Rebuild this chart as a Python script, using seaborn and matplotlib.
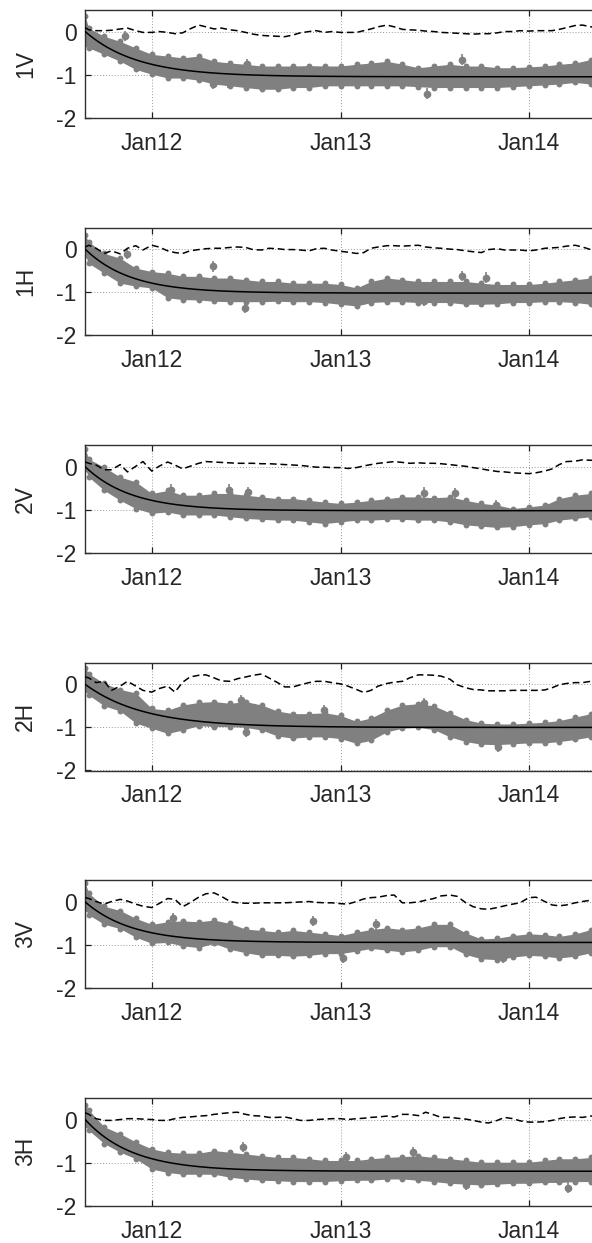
import numpy as np
import pandas as pd
import matplotlib
matplotlib.use("Agg")
import matplotlib.pyplot as plt
import matplotlib.dates as mdates
import seaborn as sns

sns.set_style("ticks")
plt.rcParams["font.family"] = ["Liberation Sans", "DejaVu Sans"]
plt.rcParams["axes.unicode_minus"] = False

# ---------------------------------------------------------------- data
channels = ["1V", "1H", "2V", "2H", "3V", "3H"]

first_day = pd.Timestamp("2011-08-25")
# monthly envelope of the daily measurements (upper / lower edge of the cloud)
band_dates = pd.DatetimeIndex([first_day]).append(
    pd.date_range("2011-09-01", "2014-06-01", freq="MS"))
# semi-monthly deviation series (dashed)
dev_dates = pd.DatetimeIndex([first_day]).append(
    pd.date_range("2011-09-01", "2014-06-01", freq="SMS"))

upper_1V = [0.35, 0.08, -0.11, -0.23, -0.38, -0.53, -0.57, -0.61, -0.57, -0.69, -0.73, -0.76,
            -0.80, -0.80, -0.80, -0.79, -0.80, -0.80, -0.76, -0.73, -0.69, -0.76, -0.84, -0.80,
            -0.76, -0.80, -0.80, -0.84, -0.84, -0.82, -0.80, -0.76, -0.73, -0.65, -0.65]
lower_1V = [-0.30, -0.38, -0.53, -0.69, -0.88, -0.99, -1.08, -1.08, -1.13, -1.22, -1.26, -1.30,
            -1.34, -1.34, -1.30, -1.30, -1.26, -1.26, -1.26, -1.26, -1.26, -1.26, -1.28, -1.30,
            -1.30, -1.30, -1.30, -1.30, -1.28, -1.26, -1.24, -1.22, -1.18, -1.22, -1.22]
upper_1H = [0.32, 0.17, -0.10, -0.21, -0.44, -0.52, -0.56, -0.63, -0.63, -0.67, -0.67, -0.71,
            -0.75, -0.75, -0.79, -0.79, -0.79, -0.82, -0.90, -0.75, -0.67, -0.71, -0.75, -0.75,
            -0.75, -0.75, -0.79, -0.82, -0.82, -0.82, -0.79, -0.75, -0.71, -0.67, -0.71]
lower_1H = [-0.14, -0.33, -0.56, -0.79, -0.86, -0.90, -1.13, -1.17, -1.18, -1.21, -1.22, -1.22,
            -1.22, -1.21, -1.22, -1.22, -1.24, -1.28, -1.32, -1.24, -1.22, -1.22, -1.24, -1.24,
            -1.24, -1.28, -1.28, -1.27, -1.24, -1.24, -1.22, -1.22, -1.24, -1.28, -1.24]
upper_2V = [0.42, 0.18, -0.01, -0.24, -0.35, -0.62, -0.55, -0.66, -0.66, -0.62, -0.62, -0.66,
            -0.70, -0.74, -0.74, -0.78, -0.82, -0.85, -0.82, -0.78, -0.74, -0.70, -0.70, -0.72,
            -0.70, -0.78, -0.85, -0.89, -0.97, -0.93, -0.89, -0.74, -0.66, -0.62, -0.58]
lower_2V = [-0.05, -0.24, -0.55, -0.78, -0.97, -1.08, -1.05, -1.12, -1.12, -1.12, -1.16, -1.20,
            -1.22, -1.24, -1.24, -1.28, -1.32, -1.28, -1.24, -1.24, -1.22, -1.22, -1.24, -1.24,
            -1.28, -1.35, -1.38, -1.41, -1.39, -1.35, -1.32, -1.24, -1.20, -1.16, -1.15]
upper_2H = [0.38, 0.25, 0.02, -0.12, -0.20, -0.56, -0.60, -0.48, -0.42, -0.40, -0.44, -0.40,
            -0.48, -0.62, -0.68, -0.68, -0.66, -0.72, -0.86, -0.78, -0.60, -0.48, -0.45, -0.50,
            -0.66, -0.82, -0.90, -0.92, -0.92, -0.90, -0.88, -0.84, -0.76, -0.68, -0.64]
lower_2H = [-0.14, -0.25, -0.50, -0.62, -0.90, -1.02, -1.14, -1.06, -0.96, -0.98, -0.98, -1.00,
            -1.06, -1.20, -1.25, -1.22, -1.22, -1.26, -1.37, -1.30, -1.10, -1.02, -1.00, -1.05,
            -1.22, -1.33, -1.39, -1.40, -1.38, -1.36, -1.36, -1.33, -1.28, -1.22, -1.18]
upper_3V = [0.44, 0.20, -0.10, -0.20, -0.38, -0.52, -0.46, -0.44, -0.46, -0.42, -0.50, -0.63,
            -0.66, -0.70, -0.66, -0.70, -0.74, -0.78, -0.70, -0.64, -0.60, -0.64, -0.60, -0.52,
            -0.52, -0.72, -0.86, -0.84, -0.78, -0.74, -0.76, -0.80, -0.74, -0.64, -0.60]
lower_3V = [-0.17, -0.30, -0.52, -0.62, -0.82, -0.96, -0.94, -1.02, -1.06, -0.96, -1.10, -1.18,
            -1.24, -1.24, -1.26, -1.24, -1.20, -1.20, -1.14, -1.08, -1.12, -1.16, -1.12, -1.04,
            -1.04, -1.22, -1.32, -1.34, -1.28, -1.24, -1.26, -1.30, -1.26, -1.18, -1.14]
upper_3H = [0.34, 0.22, -0.17, -0.33, -0.52, -0.68, -0.76, -0.78, -0.78, -0.72, -0.76, -0.80,
            -0.84, -0.88, -0.88, -0.91, -0.95, -0.95, -0.95, -0.91, -0.88, -0.86, -0.84, -0.88,
            -0.91, -0.95, -0.99, -0.99, -0.99, -0.99, -0.95, -0.91, -0.91, -0.88, -0.86]
lower_3H = [-0.13, -0.25, -0.56, -0.76, -0.91, -1.15, -1.23, -1.27, -1.27, -1.27, -1.34, -1.38,
            -1.41, -1.42, -1.44, -1.44, -1.44, -1.42, -1.41, -1.41, -1.38, -1.38, -1.41, -1.44,
            -1.48, -1.50, -1.52, -1.50, -1.48, -1.48, -1.46, -1.46, -1.44, -1.44, -1.42]

dev_1V = [0.09, 0.04, 0.02, 0.02, 0.03, 0.06, 0.08, 0.02, -0.02, -0.02, 0.00, -0.02, -0.05, -0.03,
          0.06, 0.15, 0.11, 0.06, 0.08, 0.04, 0.02, -0.02, -0.06, -0.09, -0.10, -0.11, -0.12, -0.08,
          -0.03, 0.00, 0.02, -0.02, 0.00, -0.02, -0.02, -0.02, 0.02, 0.06, 0.11, 0.15, 0.11, 0.05,
          0.04, 0.03, 0.01, 0.00, -0.02, -0.03, -0.04, -0.05, -0.06, -0.05, -0.05, -0.03, 0.00,
          0.00, 0.02, 0.01, 0.02, 0.02, 0.02, 0.05, 0.09, 0.14, 0.15, 0.11, 0.08, 0.06]
dev_1H = [0.05, 0.09, 0.02, -0.10, -0.04, -0.11, 0.02, 0.08, -0.02, 0.09, 0.05, -0.04, -0.08, -0.10,
          -0.04, -0.01, 0.01, 0.02, 0.02, 0.04, 0.05, 0.04, -0.01, -0.02, 0.02, 0.01, -0.01, -0.01,
          -0.02, -0.04, 0.01, 0.02, -0.02, -0.05, -0.07, -0.10, -0.08, 0.02, 0.05, 0.08, 0.08, 0.07,
          0.08, 0.09, 0.05, 0.03, 0.02, 0.00, -0.01, -0.04, -0.06, -0.08, -0.01, 0.01, -0.02,
          -0.02, -0.02, -0.04, -0.02, 0.02, 0.03, 0.04, 0.07, 0.09, 0.05, -0.01, -0.02, -0.02]
dev_2V = [0.11, 0.08, 0.04, -0.07, -0.07, 0.05, -0.12, 0.01, 0.12, -0.10, 0.01, 0.11, 0.04, -0.05,
          0.01, 0.08, 0.12, 0.11, 0.10, 0.09, 0.08, 0.08, 0.08, 0.07, 0.07, 0.06, 0.05, 0.04,
          0.03, 0.01, -0.01, -0.01, -0.02, -0.02, -0.04, -0.02, 0.02, 0.05, 0.08, 0.10, 0.12, 0.10,
          0.08, 0.09, 0.08, 0.08, 0.07, 0.05, 0.03, 0.01, -0.02, -0.05, -0.08, -0.11, -0.12,
          -0.14, -0.15, -0.16, -0.14, -0.10, -0.05, 0.05, 0.12, 0.13, 0.16, 0.15, 0.15, 0.15]
dev_2H = [0.17, 0.15, 0.04, 0.07, -0.14, -0.04, 0.07, -0.04, -0.14, -0.18, -0.10, -0.04, -0.18, 0.05,
          0.17, 0.21, 0.22, 0.15, 0.08, 0.07, 0.13, 0.17, 0.21, 0.24, 0.15, 0.04, -0.06, -0.06,
          -0.01, 0.04, 0.07, 0.07, 0.04, 0.01, -0.04, -0.12, -0.19, -0.14, -0.04, 0.02, 0.05, 0.07,
          0.15, 0.22, 0.22, 0.21, 0.19, 0.12, -0.01, -0.08, -0.12, -0.13, -0.15, -0.15, -0.15,
          -0.14, -0.14, -0.14, -0.14, -0.13, -0.08, -0.01, 0.02, 0.04, 0.04, 0.07, 0.07, 0.05]
dev_3V = [0.10, 0.08, 0.01, -0.05, 0.01, 0.06, 0.02, -0.05, -0.10, -0.13, -0.04, 0.08, 0.06, -0.11,
          -0.02, 0.11, 0.19, 0.21, 0.13, 0.01, -0.02, -0.03, -0.03, -0.02, -0.02, -0.02, -0.02,
          -0.01, 0.00, 0.01, -0.01, -0.02, -0.02, -0.04, -0.05, 0.01, 0.07, 0.10, 0.11, 0.15, 0.16,
          -0.02, -0.02, 0.00, 0.04, 0.08, 0.14, 0.16, 0.13, -0.02, -0.11, -0.16, -0.17, -0.13,
          -0.09, -0.05, -0.02, 0.10, 0.11, 0.01, -0.07, -0.09, -0.07, -0.02, 0.01, 0.04, 0.04, 0.02]
dev_3H = [0.16, 0.12, 0.02, -0.02, -0.02, 0.00, 0.02, 0.02, 0.01, 0.00, -0.02, -0.02, 0.02, 0.05,
          0.06, 0.08, 0.09, 0.12, 0.14, 0.16, 0.17, 0.12, 0.09, 0.08, 0.05, 0.05, 0.06, 0.02,
          -0.02, -0.02, 0.00, 0.01, 0.02, 0.02, 0.00, 0.02, 0.03, 0.05, 0.06, 0.08, 0.06, 0.12,
          0.12, 0.09, 0.17, 0.11, 0.05, 0.05, 0.03, 0.01, -0.02, -0.06, -0.08, -0.02, 0.05, 0.02,
          -0.03, -0.06, -0.06, -0.05, -0.02, 0.02, 0.05, 0.06, 0.05, 0.08, 0.08, 0.06]

# exponential settling model per channel: asymptote and time constant (days)
fit_asymptote = [-1.05, -1.02, -1.02, -1.00, -0.94, -1.20]
fit_tau_days = [100, 87, 89, 113, 90, 91]

# isolated measurements standing out of the cloud
outlier_dates = {
    "1V": ["2011-11-10", "2012-07-03", "2013-08-24", "2013-06-17", "2012-04-28", "2012-05-28"],
    "1H": ["2011-11-15", "2012-04-28", "2012-06-30", "2013-08-24", "2013-10-10", "2013-06-11"],
    "2V": ["2012-05-29", "2012-07-05", "2013-06-12", "2013-08-10", "2013-10-29", "2012-02-07"],
    "2H": ["2012-06-22", "2012-11-30", "2013-06-12", "2013-11-02", "2012-07-01"],
    "3V": ["2012-02-11", "2012-11-08", "2013-03-11", "2013-01-05", "2013-11-11"],
    "3H": ["2012-06-25", "2013-01-11", "2013-05-21", "2013-09-01", "2014-03-17"],
}
outlier_values = {
    "1V": [-0.11, -0.75, -0.65, -1.44, -1.22, -1.18],
    "1H": [-0.11, -0.40, -1.36, -0.63, -0.66, -1.21],
    "2V": [-0.53, -0.58, -0.60, -0.62, -0.89, -0.53],
    "2H": [-0.37, -0.60, -0.43, -1.45, -1.10],
    "3V": [-0.37, -0.44, -0.52, -1.29, -1.30],
    "3H": [-0.64, -0.88, -0.76, -1.52, -1.58],
}
error_half_width = 0.12

upper = dict(zip(channels, [upper_1V, upper_1H, upper_2V, upper_2H, upper_3V, upper_3H]))
lower = dict(zip(channels, [lower_1V, lower_1H, lower_2V, lower_2H, lower_3V, lower_3H]))
dev = dict(zip(channels, [dev_1V, dev_1H, dev_2V, dev_2H, dev_3V, dev_3H]))

# ---------------------------------------------------------------- figure
W, H = 592, 1243
fig = plt.figure(figsize=(W / 100, H / 100), dpi=100)
gray = "#808080"
x_left = pd.Timestamp("2011-08-24 16:00")
x_right = pd.Timestamp("2014-05-19")
model_days = pd.date_range(first_day, "2014-06-01", freq="D")
t_days = (model_days - first_day).days.values
font_size = 16.5

for k, ch in enumerate(channels):
    top = 10 + 217.6 * k
    ax = fig.add_axes([85 / W, 1 - (top + 107.7) / H, 515 / W, 107.7 / H])
    ax.set_axisbelow(True)

    ax.fill_between(band_dates, lower[ch], upper[ch], color=gray, lw=0, zorder=2)
    edge = pd.DataFrame({
        "date": np.concatenate([band_dates.values, band_dates.values]),
        "value": np.concatenate([upper[ch], lower[ch]]),
    })
    sns.scatterplot(data=edge, x="date", y="value", color=gray, s=18,
                    linewidth=0, ax=ax, zorder=2, legend=False)

    od = pd.to_datetime(outlier_dates[ch])
    ax.errorbar(od, outlier_values[ch], yerr=error_half_width, fmt="o", ms=4.5,
                color=gray, ecolor=gray, elinewidth=1.2, capsize=0, zorder=2)

    model = fit_asymptote[k] * (1 - np.exp(-t_days / fit_tau_days[k]))
    sns.lineplot(x=model_days, y=model, color="black", lw=1.1, ax=ax, zorder=4)
    sns.lineplot(x=dev_dates, y=dev[ch], color="black", lw=1.1,
                 linestyle=(0, (4.5, 2.5)), ax=ax, zorder=4)

    ax.set_xlim(x_left, x_right)
    ax.set_ylim(-2, 0.5)
    ax.set_yticks([-2, -1, 0])
    ax.set_yticklabels(["-2", "-1", "0"])
    ax.set_xticks(pd.to_datetime(["2012-01-01", "2013-01-01", "2014-01-01"]))
    ax.xaxis.set_major_formatter(mdates.DateFormatter("%b%y"))
    ax.grid(True, linestyle=(0, (1, 2)), color="#9a9a9a", lw=0.7)
    ax.tick_params(direction="in", top=True, right=True, length=4, width=0.9,
                   labelsize=font_size, color="#202020")
    ax.tick_params(axis="x", pad=10)
    ax.tick_params(axis="y", pad=6)
    for s in ax.spines.values():
        s.set_linewidth(1.0)
        s.set_color("#303030")
    ax.set_xlabel("")
    ax.set_ylabel(ch, fontsize=font_size)
    ax.yaxis.set_label_coords(-0.093, 0.5)

fig.savefig("out.png", dpi=100)
